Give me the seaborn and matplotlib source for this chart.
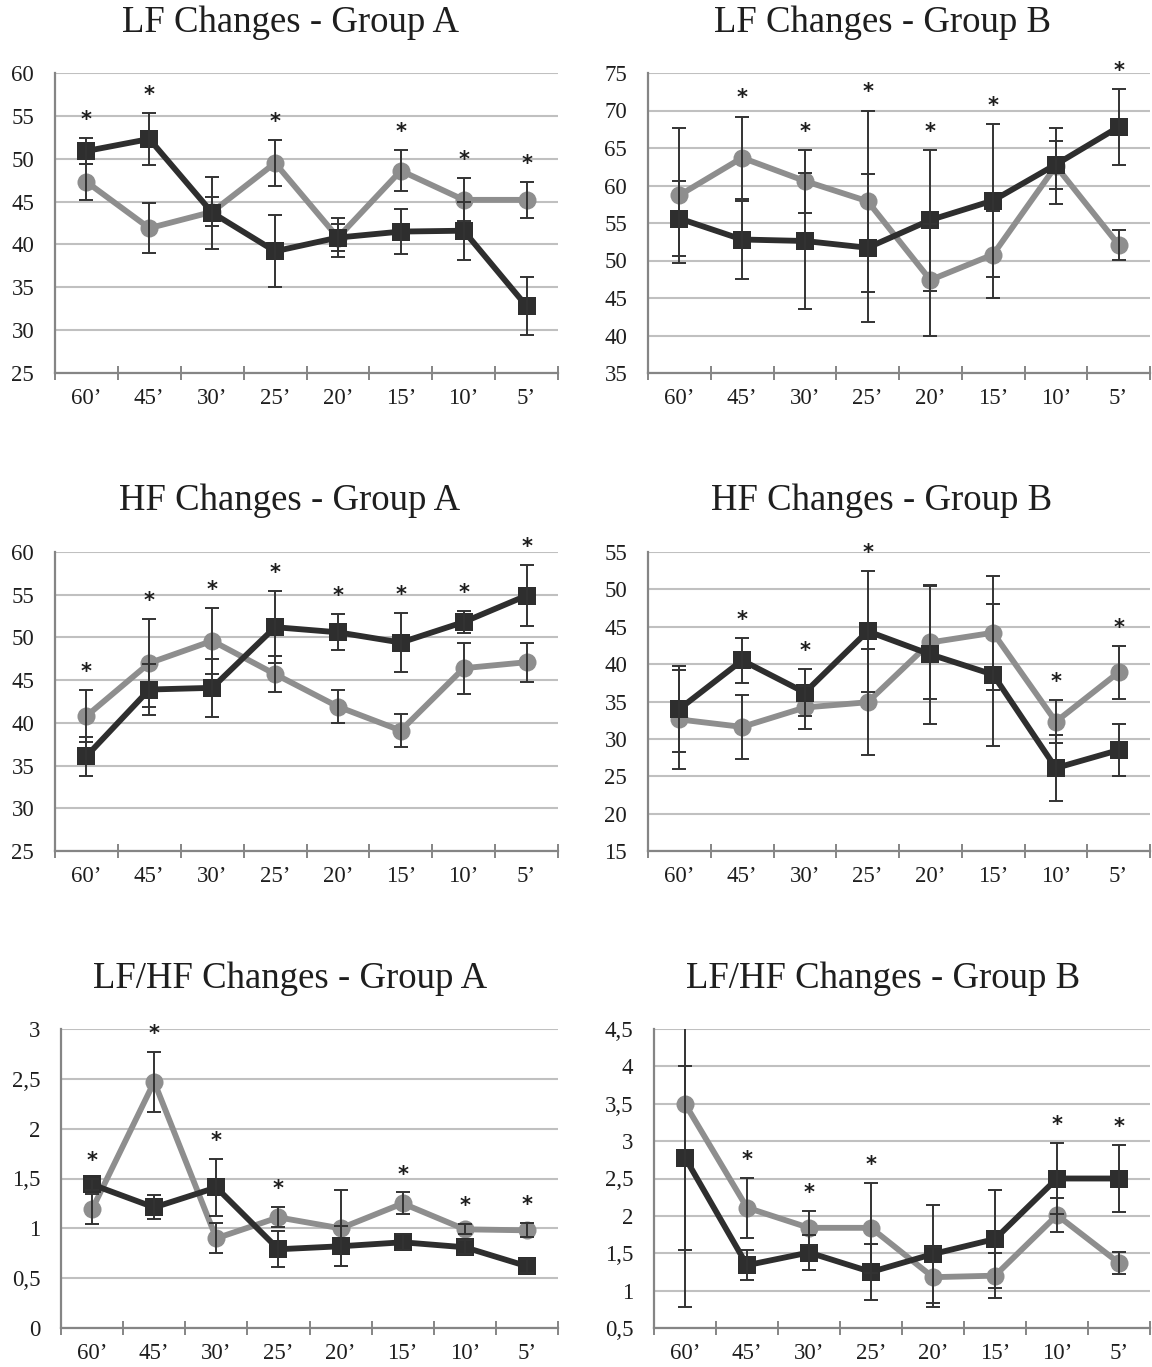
import numpy as np
import pandas as pd
import matplotlib
matplotlib.use("Agg")
import matplotlib.pyplot as plt
import seaborn as sns
from matplotlib.ticker import MultipleLocator, FuncFormatter, FixedLocator

# ---------------- data ----------------
times = ["60’", "45’", "30’", "25’", "20’", "15’", "10’", "5’"]

titles = ["LF Changes - Group A", "LF Changes - Group B",
          "HF Changes - Group A", "HF Changes - Group B",
          "LF/HF Changes - Group A", "LF/HF Changes - Group B"]

lf_a_dark = [50.9, 52.3, 43.7, 39.2, 40.8, 41.5, 41.6, 32.8]
lf_a_dark_err = [1.5, 3.0, 4.2, 4.2, 2.3, 2.6, 3.4, 3.4]
lf_a_gray = [47.3, 41.9, 43.8, 49.5, 40.8, 48.6, 45.2, 45.2]
lf_a_gray_err = [2.1, 2.9, 1.7, 2.7, 1.6, 2.4, 2.5, 2.1]
lf_a_sig = [1, 1, 0, 1, 0, 1, 1, 1]

lf_b_dark = [55.6, 52.8, 52.6, 51.7, 55.4, 58.0, 62.8, 67.8]
lf_b_dark_err = [5.0, 5.2, 9.1, 9.9, 9.4, 10.2, 3.2, 5.1]
lf_b_gray = [58.7, 63.7, 60.6, 57.9, 47.4, 50.8, 62.6, 52.1]
lf_b_gray_err = [9.0, 5.5, 4.2, 12.1, 7.5, 5.8, 5.1, 2.0]
lf_b_sig = [0, 1, 1, 1, 1, 1, 0, 1]

hf_a_dark = [36.1, 43.9, 44.1, 51.2, 50.6, 49.4, 51.8, 54.9]
hf_a_dark_err = [2.3, 3.0, 3.4, 4.2, 2.1, 3.5, 1.3, 3.6]
hf_a_gray = [40.8, 47.0, 49.6, 45.7, 41.9, 39.1, 46.4, 47.1]
hf_a_gray_err = [3.0, 5.2, 3.9, 2.1, 1.9, 1.9, 3.0, 2.3]
hf_a_sig = [1, 1, 1, 1, 1, 1, 1, 1]

hf_b_dark = [34.0, 40.5, 36.2, 44.4, 41.3, 38.6, 26.1, 28.5]
hf_b_dark_err = [5.8, 3.0, 3.1, 8.1, 9.3, 9.5, 4.4, 3.5]
hf_b_gray = [32.6, 31.6, 34.2, 34.9, 42.9, 44.2, 32.3, 38.9]
hf_b_gray_err = [6.6, 4.3, 2.9, 7.1, 7.5, 7.6, 2.9, 3.5]
hf_b_sig = [0, 1, 1, 1, 0, 0, 1, 1]

ratio_a_dark = [1.44, 1.21, 1.41, 0.79, 0.82, 0.86, 0.81, 0.62]
ratio_a_dark_err = [0.06, 0.12, 0.29, 0.18, 0.20, 0.08, 0.07, 0.07]
ratio_a_gray = [1.19, 2.47, 0.90, 1.11, 1.00, 1.25, 0.99, 0.98]
ratio_a_gray_err = [0.15, 0.30, 0.15, 0.10, 0.38, 0.11, 0.05, 0.07]
ratio_a_sig = [1, 1, 1, 1, 0, 1, 1, 1]

ratio_b_dark = [2.78, 1.34, 1.51, 1.25, 1.49, 1.69, 2.50, 2.50]
ratio_b_dark_err = [1.23, 0.20, 0.23, 0.38, 0.65, 0.66, 0.48, 0.45]
ratio_b_gray = [3.50, 2.11, 1.84, 1.84, 1.18, 1.20, 2.01, 1.37]
ratio_b_gray_err = [2.72, 0.40, 0.23, 0.60, 0.40, 0.30, 0.23, 0.15]
ratio_b_sig = [0, 1, 1, 1, 0, 0, 1, 1]

y_limits = [(25, 60), (35, 75), (25, 60), (15, 55), (0, 3), (0.5, 4.5)]
y_steps = [5, 5, 5, 5, 0.5, 0.5]

# ---------------- style ----------------
sns.set_style("white")
plt.rcParams["font.family"] = ["Liberation Serif", "DejaVu Serif"]

DARK = "#2e2e2e"
GRAY = "#8e8e8e"
GRID = "#c0c0c0"
SPINE = "#858585"
TEXT = "#1e1e1e"

W, H = 1152, 1367
fig = plt.figure(figsize=(W / 100, H / 100), dpi=100)

# axes boxes in pixels: left, top, right, bottom
boxes = [(55, 73, 558, 373), (648, 73, 1150, 373),
         (55, 552, 558, 851), (648, 552, 1150, 851),
         (61, 1029, 558, 1328), (654, 1029, 1150, 1328)]
title_pos = [(290, 23), (882, 23), (290, 501), (882, 501), (290, 979), (883, 979)]

panels = [
    (lf_a_dark, lf_a_dark_err, lf_a_gray, lf_a_gray_err, lf_a_sig),
    (lf_b_dark, lf_b_dark_err, lf_b_gray, lf_b_gray_err, lf_b_sig),
    (hf_a_dark, hf_a_dark_err, hf_a_gray, hf_a_gray_err, hf_a_sig),
    (hf_b_dark, hf_b_dark_err, hf_b_gray, hf_b_gray_err, hf_b_sig),
    (ratio_a_dark, ratio_a_dark_err, ratio_a_gray, ratio_a_gray_err, ratio_a_sig),
    (ratio_b_dark, ratio_b_dark_err, ratio_b_gray, ratio_b_gray_err, ratio_b_sig),
]


def fmt_comma(v, pos):
    s = f"{v:g}"
    return s.replace(".", ",")


for i, (dark, dark_err, gray, gray_err, sig) in enumerate(panels):
    l, t, r, b = boxes[i]
    ax = fig.add_axes([l / W, 1 - b / H, (r - l) / W, (b - t) / H])
    pos = np.arange(len(times))
    df = pd.DataFrame({
        "pos": np.concatenate([pos, pos]),
        "value": list(gray) + list(dark),
        "series": ["gray"] * len(times) + ["dark"] * len(times),
    })
    sns.lineplot(data=df, x="pos", y="value", hue="series", style="series",
                 hue_order=["gray", "dark"], style_order=["gray", "dark"],
                 palette={"gray": GRAY, "dark": DARK},
                 markers={"gray": "o", "dark": "s"}, dashes=False,
                 linewidth=4.2, markersize=13, markeredgewidth=0,
                 sort=False, legend=False, ax=ax, zorder=3)
    # error bars
    ax.errorbar(pos, gray, yerr=gray_err, fmt="none", ecolor="#333333",
                elinewidth=1.4, capsize=5, capthick=1.4, zorder=4)
    ax.errorbar(pos, dark, yerr=dark_err, fmt="none", ecolor="#333333",
                elinewidth=1.4, capsize=5, capthick=1.4, zorder=4)

    y0, y1 = y_limits[i]
    ax.set_ylim(y0, y1)
    ax.set_xlim(-0.5, len(times) - 0.5)

    # significance stars
    rng = y1 - y0
    for k in range(len(times)):
        if sig[k]:
            top = max(dark[k] + dark_err[k], gray[k] + gray_err[k])
            ax.text(pos[k], top + 0.06 * rng, "*", ha="center", va="center",
                    fontsize=15, fontweight="bold", color=TEXT, zorder=6,
                    family=["DejaVu Sans"])

    # y axis
    ax.yaxis.set_major_locator(MultipleLocator(y_steps[i]))
    ax.yaxis.set_major_formatter(FuncFormatter(fmt_comma))
    ax.tick_params(axis="y", length=0, pad=15, labelsize=16.5, labelcolor=TEXT)
    ax.grid(axis="y", color=GRID, linewidth=1.5, zorder=0)
    ax.set_axisbelow(True)

    # x axis: ticks at category boundaries, labels at centres
    ax.xaxis.set_major_locator(FixedLocator(np.arange(-0.5, len(times), 1.0)))
    ax.xaxis.set_major_formatter(FuncFormatter(lambda v, p: ""))
    ax.set_xticks(pos, labels=times, minor=True)
    ax.tick_params(axis="x", which="major", direction="inout", length=10,
                   width=1.4, color=SPINE, bottom=True)
    ax.tick_params(axis="x", which="minor", length=0, pad=11, labelsize=16.5,
                   labelcolor=TEXT)

    for side in ["top", "right"]:
        ax.spines[side].set_visible(False)
    for side in ["left", "bottom"]:
        ax.spines[side].set_color(SPINE)
        ax.spines[side].set_linewidth(1.6)
    ax.set_xlabel("")
    ax.set_ylabel("")

    tx, ty = title_pos[i]
    fig.text(tx / W, 1 - ty / H, titles[i], ha="center", va="center",
             fontsize=26.5, color=TEXT)

fig.savefig("out.png", dpi=100, facecolor="white")
